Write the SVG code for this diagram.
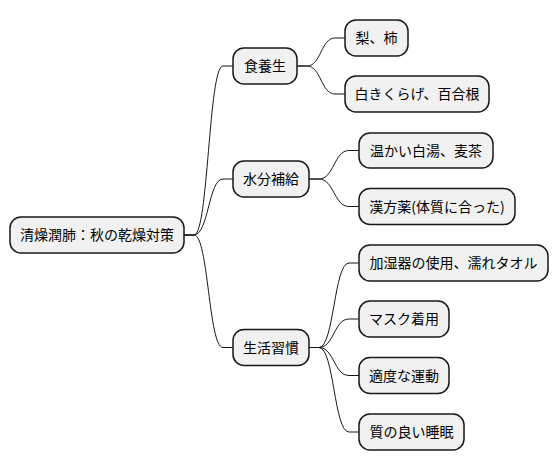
<svg xmlns="http://www.w3.org/2000/svg" width="558" height="471" viewBox="0 0 558 471">
<style>
.box{fill:#F1F1F1;stroke:#181818;stroke-width:1.5}
.t{font-family:"Noto Sans CJK JP","Noto Sans",sans-serif;font-size:14px;fill:#000;text-anchor:middle}
.c{fill:none;stroke:#181818;stroke-width:1}
</style>
<rect width="558" height="471" fill="#FFFFFF"/>
<g id="connectors">
<path class="c" d="M184,235 L194,235 C208.5,235 208.5,66 223,66 L233,66"/>
<path class="c" d="M184,235 L194,235 C208.5,235 208.5,179 223,179 L233,179"/>
<path class="c" d="M184,235 L194,235 C208.5,235 208.5,347.5 223,347.5 L233,347.5"/>
<path class="c" d="M297,66 L307,66 C321,66 321,38 335,38 L345,38"/>
<path class="c" d="M297,66 L307,66 C321,66 321,94 335,94 L345,94"/>
<path class="c" d="M309,179 L319,179 C334,179 334,150.5 349,150.5 L359,150.5"/>
<path class="c" d="M309,179 L319,179 C334,179 334,206.5 349,206.5 L359,206.5"/>
<path class="c" d="M309,347.5 L319,347.5 C334,347.5 334,263 349,263 L359,263"/>
<path class="c" d="M309,347.5 L319,347.5 C334,347.5 334,319 349,319 L359,319"/>
<path class="c" d="M309,347.5 L319,347.5 C334,347.5 334,375.5 349,375.5 L359,375.5"/>
<path class="c" d="M309,347.5 L319,347.5 C334,347.5 334,432 349,432 L359,432"/>
</g>
<g id="root"><rect class="box" x="10" y="217" width="174" height="36" rx="11"/><text class="t" x="97" y="240">清燥潤肺：秋の乾燥対策</text></g>
<g id="n1"><rect class="box" x="233" y="48" width="64" height="36" rx="11"/><text class="t" x="265" y="71">食養生</text></g>
<g id="n1a"><rect class="box" x="345" y="20" width="63" height="36" rx="11"/><text class="t" x="376.5" y="43">梨、柿</text></g>
<g id="n1b"><rect class="box" x="345" y="76" width="144" height="36" rx="11"/><text class="t" x="417" y="99">白きくらげ、百合根</text></g>
<g id="n2"><rect class="box" x="233" y="161" width="76" height="36" rx="11"/><text class="t" x="271" y="184">水分補給</text></g>
<g id="n2a"><rect class="box" x="359" y="133" width="134" height="35" rx="11"/><text class="t" x="426" y="155.5">温かい白湯、麦茶</text></g>
<g id="n2b"><rect class="box" x="359" y="188.5" width="156" height="36" rx="11"/><text class="t" x="437" y="211.5">漢方薬(体質に合った)</text></g>
<g id="n3"><rect class="box" x="233" y="329.5" width="76" height="36" rx="11"/><text class="t" x="271" y="352.5">生活習慣</text></g>
<g id="n3a"><rect class="box" x="359" y="245" width="189" height="36" rx="11"/><text class="t" x="453.5" y="268">加湿器の使用、濡れタオル</text></g>
<g id="n3b"><rect class="box" x="359" y="301" width="90" height="36" rx="11"/><text class="t" x="404" y="324">マスク着用</text></g>
<g id="n3c"><rect class="box" x="359" y="357.5" width="90" height="36" rx="11"/><text class="t" x="404" y="380.5">適度な運動</text></g>
<g id="n3d"><rect class="box" x="359" y="414" width="105" height="36" rx="11"/><text class="t" x="411.5" y="437">質の良い睡眠</text></g>
</svg>
